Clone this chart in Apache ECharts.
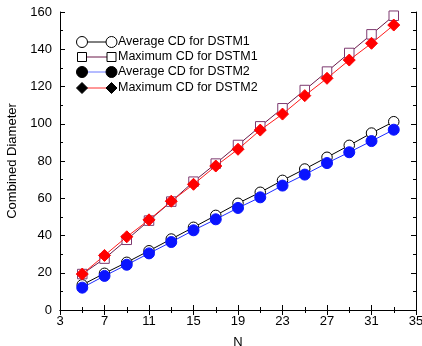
<!DOCTYPE html>
<html>
<head>
<meta charset="utf-8">
<script src="https://cdn.jsdelivr.net/npm/echarts@6/dist/echarts.min.js"></script>
<style>
  html, body { margin: 0; padding: 0; background: #fff; }
  #chart { width: 422px; height: 346px; }
</style>
</head>
<body>
<div id="chart"></div>
<script>
const nValues = [5, 7, 9, 11, 13, 15, 17, 19, 21, 23, 25, 27, 29, 31, 33];
const avgDstm1 = [13.5, 19.7, 25.6, 31.8, 38.1, 44.4, 50.8, 57.3, 63.2, 69.6, 75.7, 82.0, 88.4, 95.0, 101.1];
const maxDstm1 = [19.3, 27.6, 37.7, 48.0, 58.2, 68.9, 78.6, 88.6, 98.6, 108.3, 118.1, 128.0, 138.0, 148.0, 158.0];
const avgDstm2 = [12.0, 18.3, 24.3, 30.4, 36.5, 42.8, 48.7, 54.8, 60.5, 66.8, 72.7, 78.9, 84.7, 90.7, 96.8];
const maxDstm2 = [19.3, 29.3, 39.3, 48.4, 58.4, 67.5, 77.3, 86.3, 96.6, 105.2, 115.1, 124.4, 134.2, 143.2, 153.0];
const seriesNames = [
  "Average CD for DSTM1",
  "Maximum CD for DSTM1",
  "Average CD for DSTM2",
  "Maximum CD for DSTM2",
];

const FONT = "Liberation Sans, Arial, sans-serif";

const pairs = (ys) => nValues.map((n, i) => [n, ys[i]]);

const styles = [
  { line: "#000000", symbol: "circle", size: 10.5, fill: "#ffffff", border: "#000000", legendLine: "#000000", legendFill: "#ffffff", legendBorder: "#000000" },
  { line: "#6a1848", symbol: "rect", size: 9.5, fill: "#ffffff", border: "#7e3a70", legendLine: "#6a1848", legendFill: "#ffffff", legendBorder: "#000000" },
  { line: "#1e2cff", symbol: "circle", size: 11, fill: "#0a14ff", border: "#0a14ff", legendLine: "#6b78ff", legendFill: "#000000", legendBorder: "#000000" },
  { line: "#ff1a1a", symbol: "diamond", size: 12, fill: "#ff0000", border: "#ff0000", legendLine: "#ff3030", legendFill: "#000000", legendBorder: "#000000" },
];
const seriesData = [avgDstm1, maxDstm1, avgDstm2, maxDstm2];

const chart = echarts.init(document.getElementById("chart"));

// legend drawn by hand: symbol at both ends of the line, like the original
const legendRows = [42, 57, 72, 88];
const legendGraphics = [];
const legendSymbol = (st, cx, cy) => {
  const style = { fill: st.legendFill, stroke: st.legendBorder, lineWidth: 1 };
  if (st.symbol === "circle") {
    return { type: "circle", shape: { cx, cy, r: 5.5 }, style };
  }
  if (st.symbol === "rect") {
    return { type: "rect", shape: { x: cx - 4.5, y: cy - 4.5, width: 9, height: 9 }, style };
  }
  return { type: "polygon", shape: { points: [[cx, cy - 5.5], [cx + 5.5, cy], [cx, cy + 5.5], [cx - 5.5, cy]] }, style };
};
seriesNames.forEach((name, i) => {
  const st = styles[i];
  const y = legendRows[i];
  legendGraphics.push({
    type: "line",
    shape: { x1: 82, y1: y, x2: 111.5, y2: y },
    style: { stroke: st.legendLine, lineWidth: 1 },
    z: 10,
  });
  legendGraphics.push(Object.assign(legendSymbol(st, 82, y), { z: 11 }));
  legendGraphics.push(Object.assign(legendSymbol(st, 111.5, y), { z: 11 }));
  legendGraphics.push({
    type: "text",
    x: 118,
    y: y,
    style: { text: name, fill: "#000", font: "12.5px " + FONT, textVerticalAlign: "middle" },
    z: 11,
  });
});

const boxAxis = {
  axisLine: { show: true, lineStyle: { color: "#000", width: 1 } },
  axisTick: { show: true, inside: true, length: 5, lineStyle: { color: "#000" } },
  minorTick: { show: true, splitNumber: 2, length: 3, lineStyle: { color: "#000" } },
  splitLine: { show: false },
};

chart.setOption({
  animation: false,
  backgroundColor: "#fff",
  grid: { left: 60, right: 6, top: 12, bottom: 36, outerBoundsMode: "none", containLabel: false },
  xAxis: [
    Object.assign({}, boxAxis, {
      type: "value",
      min: 3,
      max: 35,
      interval: 4,
      name: "N",
      nameLocation: "middle",
      nameGap: 26,
      nameTextStyle: { color: "#000", fontSize: 13, fontFamily: FONT },
      axisLabel: { color: "#000", fontSize: 13, fontFamily: FONT, margin: 5 },
    }),
    Object.assign({}, boxAxis, {
      type: "value",
      position: "top",
      min: 3,
      max: 35,
      interval: 4,
      axisLabel: { show: false },
    }),
  ],
  yAxis: [
    Object.assign({}, boxAxis, {
      type: "value",
      min: 0,
      max: 160,
      interval: 20,
      name: "Combined Diameter",
      nameLocation: "middle",
      nameGap: 41,
      nameTextStyle: { color: "#000", fontSize: 13, fontFamily: FONT },
      axisLabel: { color: "#000", fontSize: 13, fontFamily: FONT, margin: 8 },
    }),
    Object.assign({}, boxAxis, {
      type: "value",
      position: "right",
      min: 0,
      max: 160,
      interval: 20,
      axisLabel: { show: false },
    }),
  ],
  graphic: legendGraphics,
  series: seriesNames.map((name, i) => ({
    name,
    type: "line",
    data: pairs(seriesData[i]),
    symbol: styles[i].symbol,
    symbolSize: styles[i].size,
    showAllSymbol: true,
    lineStyle: { color: styles[i].line, width: 1 },
    itemStyle: { color: styles[i].fill, borderColor: styles[i].border, borderWidth: 1 },
    z: 2 + i,
  })),
});
</script>
</body>
</html>
